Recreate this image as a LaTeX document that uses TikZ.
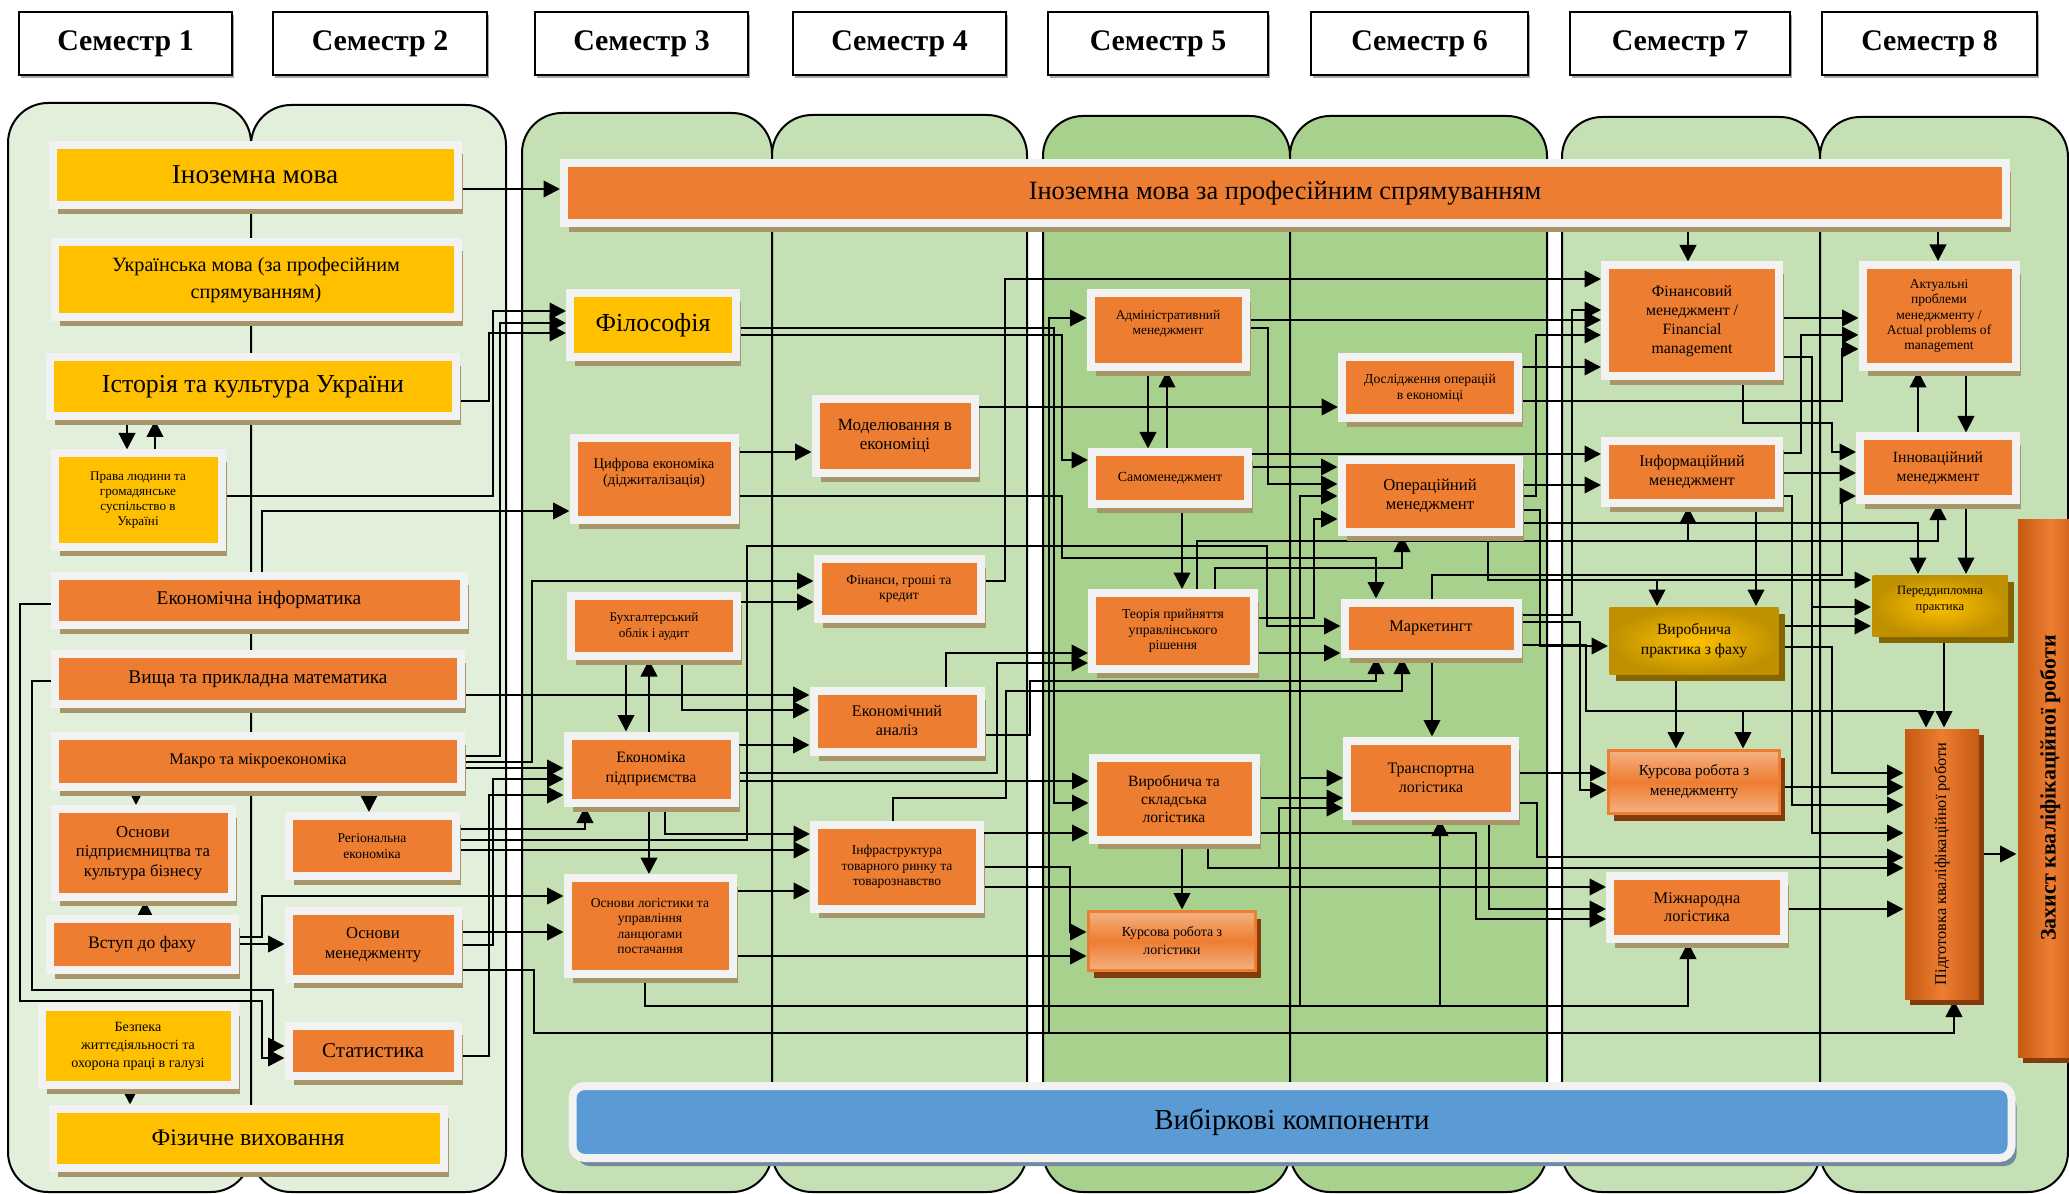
\documentclass[tikz,border=0pt]{standalone}
\usepackage{fontspec}
\setmainfont{Liberation Serif}
\usepackage{graphicx}
\usetikzlibrary{shapes,arrows.meta,shadows}
\definecolor{yel}{HTML}{FFC000}
\definecolor{org}{HTML}{ED7D31}
\definecolor{rim}{HTML}{F2F2F2}
\definecolor{shd}{HTML}{A8966B}
\definecolor{pa}{HTML}{E2EFDA}
\definecolor{pb}{HTML}{C5E0B4}
\definecolor{pc}{HTML}{A9D18E}
\definecolor{blu}{HTML}{5B9BD5}
\definecolor{gld}{HTML}{BF9000}
\definecolor{rust}{HTML}{C55A11}
\definecolor{peach}{HTML}{F4B183}
\definecolor{brn}{HTML}{843C0C}
\newcommand{\fz}[2]{\fontsize{#1}{#2}\selectfont}
\pgfdeclarelayer{bg}
\pgfdeclarelayer{ln}
\pgfsetlayers{bg,ln,main}
\tikzset{sz/.style 2 args={minimum width={(#1)*0.2mm}, minimum height={(#2)*0.2mm}}}
\tikzstyle{box} = [rectangle, inner sep=0pt, outer sep=0.8mm, align=center, draw=rim, line width=1.6mm, drop shadow={shadow xshift=1mm, shadow yshift=-1.8mm, fill=shd, opacity=1}]
\tikzstyle{ybox} = [box, fill=yel]
\tikzstyle{obox} = [box, fill=org]
\tikzstyle{sem} = [rectangle, inner sep=0pt, draw=black, line width=0.4mm, fill=white, font=\bfseries\fz{17}{20}, drop shadow={shadow xshift=0.3mm, shadow yshift=-0.5mm, fill=gray!70, opacity=1}]
\tikzstyle{prak} = [rectangle, inner sep=0pt, outer sep=0.3mm, align=center, inner color=yel, outer color=gld, drop shadow={shadow xshift=1.2mm, shadow yshift=-1.2mm, fill=gld!70!black, opacity=1}]
\tikzstyle{kurs} = [rectangle, inner sep=0pt, outer sep=0.4mm, align=center, draw=org, line width=0.7mm, top color=peach, bottom color=peach, middle color=org, drop shadow={shadow xshift=1mm, shadow yshift=-1.4mm, fill=brn, opacity=1}]
\tikzstyle{rbox} = [rectangle, inner sep=0pt, outer sep=0.3mm, align=center, left color=rust, right color=rust, middle color=org, drop shadow={shadow xshift=1mm, shadow yshift=-1.2mm, fill=brn, opacity=1}]
\tikzstyle{vbox} = [rectangle, rounded corners=2.4mm, inner sep=0pt, fill=blu, draw=rim, line width=1.6mm, drop shadow={shadow xshift=1mm, shadow yshift=-1.6mm, fill=gray!60!blu, opacity=1}]
\tikzstyle{arr} = [-{Triangle[length=3.3mm,width=3.3mm]}]

\begin{document}
\begin{tikzpicture}[x=0.2mm, y=-0.2mm]
\useasboundingbox (0,0) rectangle (2069,1194);
% panels of the semesters
\begin{pgfonlayer}{bg}
\foreach \xa/\xb/\yt/\cl in {8/251/103/pa,251/506/105/pa,522/772/113/pb,772/1027/115/pb,1043/1290/116/pc,1290/1547/116/pc,1562/1820/117/pb,1820/2068/117/pb}
  \draw[fill=\cl, line width=0.4mm, rounded corners=8mm] (\xa,\yt) rectangle (\xb,1192);
\end{pgfonlayer}
\foreach \n/\xa/\xb in {1/19/232,2/273/487,3/535/748,4/793/1006,5/1048/1268,6/1311/1528,7/1570/1790,8/1822/2037}
  \node[sem, sz={\xb-\xa}{63}] (s\n) at ({(\xa+\xb)/2},44) {Семестр \n};
% semesters 1-2
\node[ybox, sz={405}{60}, font=\fz{15.5}{18}] (inoz) at (255,175) {Іноземна мова};
\node[ybox, sz={403}{75}, font=\fz{11.5}{15.5}] (ukr) at (256,280) {Українська мова (за професійним\\спрямуванням)};
\node[ybox, sz={406}{59}, font=\fz{14.7}{17}] (ist) at (253,387) {Історія та культура України};
\node[ybox, sz={167}{93}, font=\fz{7.5}{8.6}] (prava) at (138,500) {Права людини та\\громадянське\\суспільство в\\Україні};
\node[obox, sz={409}{49}, font=\fz{11}{13}] (ekinf) at (259,600) {Економічна інформатика};
\node[obox, sz={406}{50}, font=\fz{11}{13}] (vyshcha) at (258,679) {Вища та прикладна математика};
\node[obox, sz={406}{51}, font=\fz{9.3}{11}] (makro) at (258,761) {Макро та мікроекономіка};
\node[obox, sz={177}{88}, font=\fz{9.5}{11}] (osnpidpr) at (143,853) {Основи\\підприємництва та\\культура бізнесу};
\node[obox, sz={167}{60}, font=\fz{7.7}{9}] (region) at (372,846) {Регіональна\\економіка};
\node[obox, sz={185}{51}, font=\fz{10}{12}] (vstup) at (142,944) {Вступ до фаху};
\node[obox, sz={169}{68}, font=\fz{9.5}{11.3}] (osnmen) at (373,945) {Основи\\менеджменту};
\node[ybox, sz={193}{78}, font=\fz{8}{10.2}] (bezpeka) at (138,1046) {Безпека\\життєдіяльності та\\охорона праці в галузі};
\node[obox, sz={169}{50}, font=\fz{12}{14}] (statyst) at (373,1051) {Статистика};
\node[ybox, sz={391}{59}, font=\fz{13.5}{16}] (fiz) at (248,1138) {Фізичне виховання};
% semesters 3-4
\node[obox, sz={1442}{60}, font=\fz{15}{17}] (inozprof) at (1285,193) {Іноземна мова за професійним спрямуванням};
\node[ybox, sz={166}{64}, font=\fz{14.8}{17}] (fil) at (653,325) {Філософія};
\node[obox, sz={161}{81}, font=\fz{8.3}{8.6}] (tsyfr) at (654,479) {Цифрова економіка\\(діджиталізація)\\\mbox{}};
\node[obox, sz={159}{74}, font=\fz{9.7}{10.8}] (model) at (895,436) {Моделювання в\\економіці};
\node[obox, sz={163}{60}, font=\fz{7.8}{8.5}] (finan) at (899,589) {Фінанси, гроші та\\кредит};
\node[obox, sz={166}{60}, font=\fz{7.5}{9.1}] (bukh) at (654,626) {Бухгалтерський\\облік і аудит};
\node[obox, sz={167}{61}, font=\fz{9.2}{10.8}] (ekanal) at (897,721) {Економічний\\аналіз};
\node[obox, sz={167}{67}, font=\fz{9}{11.3}] (ekpidpr) at (651,769) {Економіка\\підприємства};
\node[obox, sz={166}{84}, font=\fz{7.7}{8.8}] (infra) at (897,867) {Інфраструктура\\товарного ринку та\\товарознавство};
\node[obox, sz={165}{96}, font=\fz{7.7}{8.8}] (osnlog) at (650,926) {Основи логістики та\\управління\\ланцюгами\\постачання};
% semesters 5-6
\node[obox, sz={155}{74}, font=\fz{7.6}{8.5}] (admin) at (1168,330) {Адміністративний\\менеджмент\\\mbox{}};
\node[obox, sz={176}{61}, font=\fz{7.8}{9}] (dosl) at (1430,388) {Дослідження операцій\\в економіці};
\node[obox, sz={156}{51}, font=\fz{7.9}{9}] (samo) at (1170,478) {Самоменеджмент};
\node[obox, sz={177}{71}, font=\fz{9.5}{10.8}] (oper) at (1430,496) {Операційний\\менеджмент};
\node[obox, sz={162}{76}, font=\fz{7.8}{8.8}] (teor) at (1173,631) {Теорія прийняття\\управлінського\\рішення};
\node[obox, sz={173}{51}, font=\fz{9.3}{11}] (market) at (1431,628) {Маркетингт};
\node[obox, sz={163}{82}, font=\fz{8.9}{10.5}] (vyrskl) at (1174,799) {Виробнича та\\складська\\логістика};
\node[obox, sz={168}{75}, font=\fz{9.1}{10.8}] (transp) at (1431,778) {Транспортна\\логістика};
\node[kurs, sz={167}{59}, font=\fz{7.9}{10.2}] (kurslog) at (1172,941) {Курсова робота з\\логістики};
% semesters 7-8
\node[obox, sz={174}{111}, font=\fz{9}{10.8}] (finmen) at (1692,321) {Фінансовий\\менеджмент /\\Financial\\management};
\node[obox, sz={153}{102}, font=\fz{7.7}{8.6}] (aktual) at (1939,316) {Актуальні\\проблеми\\менеджменту /\\Actual problems of\\management};
\node[obox, sz={174}{62}, font=\fz{9.2}{10.8}] (infmen) at (1692,472) {Інформаційний\\менеджмент};
\node[obox, sz={156}{63}, font=\fz{8.9}{10.8}] (innov) at (1938,468) {Інноваційний\\менеджмент};
\node[prak, sz={169}{67}, font=\fz{8.9}{11.3}] (vyrprak) at (1694,641) {Виробнича\\практика з фаху};
\node[prak, sz={135}{61}, font=\fz{7.2}{9}] (peredd) at (1940,606) {Переддипломна\\практика\\\mbox{}};
\node[kurs, sz={171}{63}, font=\fz{8.7}{11.3}] (kursmen) at (1694,782) {Курсова робота з\\менеджменту};
\node[obox, sz={174}{63}, font=\fz{9.3}{10.2}] (mizhn) at (1697,907) {Міжнародна\\логістика};
\node[rbox, sz={74}{270}, font=\fz{9.3}{11}] (pidg) at (1942,864) {\rotatebox{90}{Підготовка кваліфікаційної роботи}};
\node[rbox, sz={64}{538}, font=\bfseries\fz{12.5}{15}] (zakh) at (2050,788) {\rotatebox{90}{Захист кваліфікаційної роботи}};
\node[vbox, sz={1439}{72}, font=\fz{16.5}{19}] (vybir) at (1292,1122) {Вибіркові компоненти};
% connectors
\begin{pgfonlayer}{ln}
\begin{scope}[line width=0.5mm]
\draw[arr] (inoz.east|-0,189) -- (inozprof.west|-0,189);
\draw[arr] (ist.south-|127,0) -- (prava.north-|127,0);
\draw[arr] (prava.north-|155,0) -- (ist.south-|155,0);
\draw[arr] (makro.south-|136,0) -- (osnpidpr.north-|136,0);
\draw[arr] (makro.south-|369,0) -- (region.north-|369,0);
\draw[arr] (vstup.north-|145,0) -- (osnpidpr.south-|145,0);
\draw[arr] (vstup.east|-0,944) -- (osnmen.west|-0,944);
\draw[arr] (bezpeka.south-|130,0) -- (fiz.north-|130,0);
\draw[arr] (ekinf.west|-0,604) -- (20,604) -- (20,1001) -- (262,1001) -- (262,1058) -- (statyst.west|-0,1058);
\draw[arr] (vyshcha.west|-0,681) -- (32,681) -- (32,990) -- (273,990) -- (273,1046) -- (statyst.west|-0,1046);
\draw[arr] (vstup.east|-0,937) -- (262,937) -- (262,896) -- (osnlog.west|-0,896);
\draw[arr] (ist.east|-0,401) -- (489,401) -- (489,333) -- (fil.west|-0,333);
\draw[arr] (prava.east|-0,496) -- (493,496) -- (493,311) -- (fil.west|-0,311);
\draw[arr] (makro.east|-0,756) -- (500,756) -- (500,323) -- (fil.west|-0,323);
\draw[arr] (ekinf.north-|262,0) -- (262,511) -- (tsyfr.west|-0,511);
\draw[arr] (vyshcha.east|-0,695) -- (ekanal.west|-0,695);
\draw[arr] (makro.east|-0,768) -- (ekpidpr.west|-0,768);
\draw[arr] (makro.east|-0,762) -- (532,762) -- (532,581) -- (finan.west|-0,581);
\draw[arr] (region.east|-0,829) -- (585,829) -- (ekpidpr.south-|585,0);
\draw[arr] (region.east|-0,850) -- (infra.west|-0,850);
\draw[arr] (region.east|-0,840) -- (747,840) -- (747,546) -- (1267,546) -- (1267,626) -- (market.west|-0,626);
\draw[arr] (osnmen.east|-0,932) -- (osnlog.west|-0,932);
\draw[arr] (osnmen.east|-0,945) -- (493,945) -- (493,779) -- (ekpidpr.west|-0,779);
\draw[arr] (statyst.east|-0,1056) -- (489,1056) -- (489,795) -- (ekpidpr.west|-0,795);
\draw[arr] (osnmen.east|-0,970) -- (534,970) -- (534,1033) -- (1954,1033) -- (pidg.south-|1954,0);
\coordinate (j2) at (1049,1033);
\draw[arr] (j2) -- (1049,318) -- (admin.west|-0,318);
\draw[arr] (tsyfr.east|-0,452) -- (model.west|-0,452);
\draw[arr] (bukh.east|-0,602) -- (finan.west|-0,602);
\draw[arr] (bukh.south-|626,0) -- (ekpidpr.north-|626,0);
\draw[arr] (ekpidpr.north-|649,0) -- (bukh.south-|649,0);
\draw[arr] (bukh.south-|682,0) -- (682,710) -- (ekanal.west|-0,710);
\draw[arr] (ekpidpr.east|-0,745) -- (ekanal.west|-0,745);
\draw[arr] (ekpidpr.south-|649,0) -- (osnlog.north-|649,0);
\draw[arr] (ekpidpr.south-|665,0) -- (665,834) -- (infra.west|-0,834);
\draw[arr] (osnlog.east|-0,891) -- (infra.west|-0,891);
\draw[arr] (osnlog.east|-0,956) -- (kurslog.west|-0,956);
\draw[arr] (osnlog.south-|645,0) -- (645,1006) -- (1688,1006) -- (mizhn.south-|1688,0);
\draw[arr] (osnlog.south-|645,0) -- (645,1006) -- (1440,1006) -- (transp.south-|1440,0);
\draw[arr] (osnlog.south-|645,0) -- (645,1006) -- (1300,1006) -- (1300,496) -- (oper.west|-0,496);
\coordinate (j3) at (1300,778);
\draw[arr] (j3) -- (transp.west|-0,778);
\draw[arr] (fil.east|-0,328) -- (1054,328) -- (1054,803) -- (vyrskl.west|-0,803);
\draw[arr] (fil.east|-0,335) -- (1062,335) -- (1062,460) -- (samo.west|-0,460);
\draw[arr] (tsyfr.east|-0,496) -- (1062,496) -- (1062,558) -- (1376,558) -- (market.north-|1376,0);
\draw[arr] (model.east|-0,407) -- (dosl.west|-0,407);
\draw[arr] (finan.east|-0,581) -- (1005,581) -- (1005,279) -- (finmen.west|-0,279);
\draw[arr] (ekanal.north-|946,0) -- (946,653) -- (teor.west|-0,653);
\draw[arr] (ekpidpr.east|-0,773) -- (997,773) -- (997,663) -- (teor.west|-0,663);
\draw[arr] (ekpidpr.east|-0,781) -- (vyrskl.west|-0,781);
\draw[arr] (infra.north-|893,0) -- (893,798) -- (1006,798) -- (1006,691) -- (1402,691) -- (market.south-|1402,0);
\draw[arr] (infra.east|-0,833) -- (vyrskl.west|-0,833);
\draw[arr] (infra.east|-0,867) -- (1070,867) -- (1070,932) -- (kurslog.west|-0,932);
\draw[arr] (infra.east|-0,887) -- (mizhn.west|-0,887);
\draw[arr] (ekanal.east|-0,735) -- (1030,735) -- (1030,681) -- (1376,681) -- (market.south-|1376,0);
% semesters 5-6
\draw[arr] (admin.south-|1148,0) -- (samo.north-|1148,0);
\draw[arr] (samo.north-|1167,0) -- (admin.south-|1167,0);
\draw[arr] (samo.south-|1182,0) -- (teor.north-|1182,0);
\draw[arr] (admin.east|-0,328) -- (1268,328) -- (1268,484) -- (oper.west|-0,484);
\draw[arr] (admin.east|-0,320) -- (finmen.west|-0,320);
\draw[arr] (samo.east|-0,467) -- (oper.west|-0,467);
\draw[arr] (samo.east|-0,454) -- (infmen.west|-0,454);
\draw[arr] (teor.east|-0,618) -- (1314,618) -- (1314,519) -- (oper.west|-0,519);
\draw[arr] (teor.east|-0,653) -- (market.west|-0,653);
\draw[arr] (teor.north-|1215,0) -- (1215,568) -- (1402,568) -- (oper.south-|1402,0);
\draw[arr] (teor.north-|1197,0) -- (1197,541) -- (1938,541) -- (innov.south-|1938,0);
\coordinate (j1) at (1688,541);
\draw[arr] (j1) -- (infmen.south-|j1);
\draw[arr] (market.south-|1432,0) -- (transp.north-|1432,0);
\draw[arr] (market.north-|1432,0) -- (1432,575) -- (1842,575) -- (1842,496) -- (innov.west|-0,496);
\draw[arr] (oper.east|-0,496) -- (1536,496) -- (1536,335) -- (finmen.west|-0,335);
\draw[arr] (oper.east|-0,485) -- (infmen.west|-0,485);
\draw[arr] (oper.east|-0,510) -- (1540,510) -- (1540,646) -- (vyrprak.west|-0,646);
\draw[arr] (oper.east|-0,523) -- (1918,523) -- (peredd.north-|1918,0);
\draw[arr] (oper.south-|1488,0) -- (1488,580) -- (peredd.west|-0,580);
\coordinate (j5) at (1657,580);
\draw[arr] (j5) -- (vyrprak.north-|j5);
\draw[arr] (dosl.east|-0,367) -- (finmen.west|-0,367);
\draw[arr] (dosl.east|-0,401) -- (1842,401) -- (1842,349) -- (aktual.west|-0,349);
\draw[arr] (market.east|-0,615) -- (1572,615) -- (1572,310) -- (finmen.west|-0,310);
\draw[arr] (market.east|-0,622) -- (1580,622) -- (1580,790) -- (kursmen.west|-0,790);
\draw[arr] (market.east|-0,645) -- (1586,645) -- (1586,711) -- (1926,711) -- (pidg.north-|1926,0);
\coordinate (j6) at (1743,711);
\draw[arr] (j6) -- (kursmen.north-|j6);
\draw[arr] (vyrskl.south-|1182,0) -- (kurslog.north-|1182,0);
\draw[arr] (vyrskl.east|-0,798) -- (transp.west|-0,798);
\draw[arr] (vyrskl.east|-0,833) -- (1476,833) -- (1476,919) -- (mizhn.west|-0,919);
\draw[arr] (vyrskl.south-|1208,0) -- (1208,868) -- (pidg.west|-0,868);
\coordinate (j4) at (1279,868);
\draw[arr] (j4) -- (1279,808) -- (transp.west|-0,808);
\draw[arr] (transp.east|-0,803) -- (1537,803) -- (1537,857) -- (pidg.west|-0,857);
\draw[arr] (transp.south-|1489,0) -- (1489,909) -- (mizhn.west|-0,909);
\draw[arr] (transp.east|-0,773) -- (kursmen.west|-0,773);
% semesters 7-8
\draw[arr] (inozprof.south-|1688,0) -- (finmen.north-|1688,0);
\draw[arr] (inozprof.south-|1938,0) -- (aktual.north-|1938,0);
\draw[arr] (finmen.east|-0,318) -- (aktual.west|-0,318);
\draw[arr] (finmen.south-|1743,0) -- (1743,423) -- (1832,423) -- (1832,452) -- (innov.west|-0,452);
\draw[arr] (finmen.east|-0,357) -- (1812,357) -- (1812,833) -- (pidg.west|-0,833);
\draw[arr] (finmen.east|-0,357) -- (1812,357) -- (1812,607) -- (peredd.west|-0,607);
\draw[arr] (aktual.south-|1966,0) -- (innov.north-|1966,0);
\draw[arr] (innov.north-|1918,0) -- (aktual.south-|1918,0);
\draw[arr] (infmen.east|-0,453) -- (1801,453) -- (1801,335) -- (aktual.west|-0,335);
\draw[arr] (infmen.east|-0,473) -- (innov.west|-0,473);
\draw[arr] (infmen.east|-0,496) -- (1792,496) -- (1792,805) -- (pidg.west|-0,805);
\draw[arr] (infmen.south-|1756,0) -- (vyrprak.north-|1756,0);
\draw[arr] (innov.south-|1966,0) -- (peredd.north-|1966,0);
\draw[arr] (vyrprak.east|-0,626) -- (peredd.west|-0,626);
\draw[arr] (vyrprak.east|-0,647) -- (1832,647) -- (1832,773) -- (pidg.west|-0,773);
\draw[arr] (vyrprak.south-|1676,0) -- (kursmen.north-|1676,0);
\draw[arr] (peredd.south-|1944,0) -- (pidg.north-|1944,0);
\draw[arr] (kursmen.east|-0,787) -- (pidg.west|-0,787);
\draw[arr] (mizhn.east|-0,909) -- (pidg.west|-0,909);
\draw[arr] (pidg.east|-0,854) -- (zakh.west|-0,854);
\end{scope}
\end{pgfonlayer}
\end{tikzpicture}
\end{document}
